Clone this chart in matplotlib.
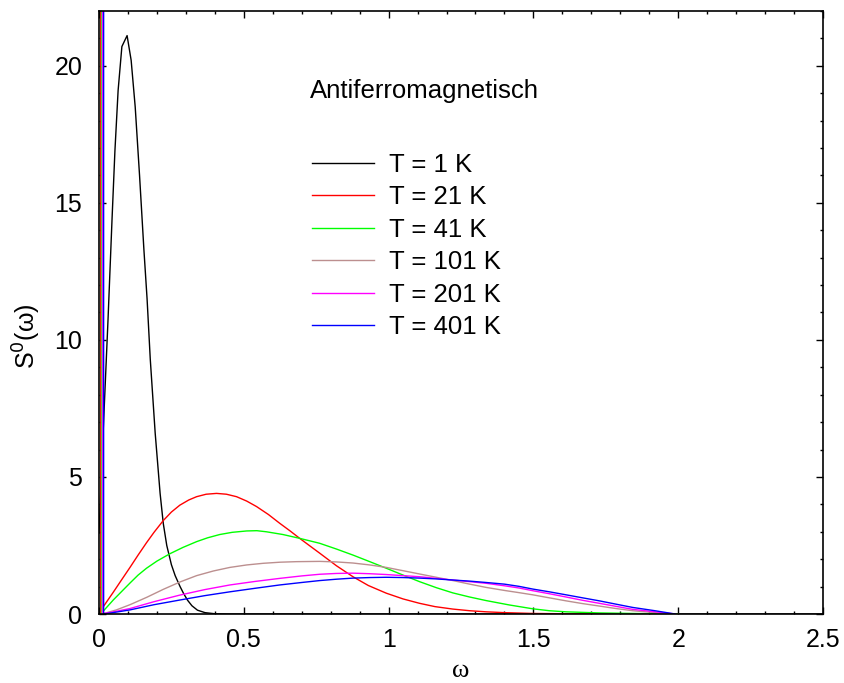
import matplotlib
matplotlib.use("Agg")
import matplotlib.pyplot as plt
from matplotlib.ticker import MultipleLocator, FuncFormatter

plt.rcParams["font.family"] = ["Liberation Sans", "DejaVu Sans"]

# spectra S0(w); first two points of each T>1 curve are the w->0 spike
w_1 = [0.0, 0.015, 0.031, 0.045, 0.055, 0.066, 0.079, 0.097, 0.111, 0.125, 0.14, 0.155,
       0.166, 0.177, 0.194, 0.211, 0.222, 0.234, 0.25, 0.263, 0.28, 0.292, 0.306, 0.321,
       0.34, 0.366, 0.4, 0.45, 2.5]
s_1 = [2.95, 6.8, 10.7, 14.4, 16.9, 19.1, 20.7, 21.1, 20.2, 18.5, 16.0, 13.3,
       11.5, 9.3, 6.6, 4.4, 3.3, 2.5, 1.8, 1.4, 1.0, 0.75, 0.5, 0.3,
       0.14, 0.05, 0.01, 0.0, 0.0]

w_21 = [0.006, 0.006, 0.015, 0.03, 0.049, 0.075, 0.107, 0.135, 0.164, 0.19, 0.222, 0.25,
        0.279, 0.31, 0.337, 0.37, 0.406, 0.44, 0.475, 0.51, 0.544, 0.585, 0.624, 0.66,
        0.693, 0.73, 0.762, 0.82, 0.877, 0.93, 0.992, 1.05, 1.107, 1.16, 1.222, 1.28,
        1.337, 1.4, 1.5, 1.6, 1.8, 2.0]
s_21 = [100.0, 0.0, 0.27, 0.5, 0.79, 1.2, 1.7, 2.15, 2.6, 2.98, 3.41, 3.72,
        3.97, 4.16, 4.28, 4.37, 4.40, 4.37, 4.28, 4.12, 3.92, 3.63, 3.31, 3.03,
        2.76, 2.47, 2.22, 1.76, 1.36, 1.04, 0.76, 0.55, 0.39, 0.27, 0.18, 0.12,
        0.08, 0.05, 0.02, 0.01, 0.0, 0.0]

w_41 = [0.009, 0.009, 0.016, 0.05, 0.107, 0.135, 0.164, 0.2, 0.245, 0.29, 0.337, 0.375,
        0.417, 0.46, 0.51, 0.545, 0.578, 0.635, 0.693, 0.762, 0.82, 0.877, 0.935, 0.992,
        1.05, 1.107, 1.165, 1.222, 1.28, 1.337, 1.417, 1.498, 1.555, 1.613, 1.728, 1.843, 2.0]
s_41 = [100.0, 0.0, 0.12, 0.52, 1.13, 1.42, 1.67, 1.93, 2.2, 2.43, 2.64, 2.78,
        2.9, 2.98, 3.03, 3.04, 3.0, 2.9, 2.76, 2.58, 2.37, 2.15, 1.91, 1.67,
        1.42, 1.18, 0.96, 0.77, 0.62, 0.49, 0.33, 0.19, 0.12, 0.08, 0.04, 0.02, 0.0]

w_101 = [0.011, 0.011, 0.017, 0.06, 0.107, 0.165, 0.222, 0.28, 0.337, 0.395, 0.452, 0.51,
         0.567, 0.625, 0.682, 0.762, 0.82, 0.877, 0.935, 0.992, 1.05, 1.107, 1.165, 1.222,
         1.28, 1.337, 1.40, 1.45, 1.498, 1.555, 1.613, 1.67, 1.728, 1.785, 1.843, 1.92, 1.99]
s_101 = [100.0, 0.0, 0.02, 0.15, 0.34, 0.61, 0.9, 1.17, 1.40, 1.57, 1.70, 1.79,
         1.85, 1.89, 1.91, 1.92, 1.90, 1.86, 1.79, 1.70, 1.58, 1.46, 1.34, 1.22,
         1.09, 0.97, 0.86, 0.78, 0.70, 0.59, 0.48, 0.38, 0.29, 0.20, 0.12, 0.05, 0.0]

w_201 = [0.013, 0.013, 0.017, 0.06, 0.107, 0.19, 0.279, 0.365, 0.452, 0.54, 0.624, 0.7,
         0.762, 0.82, 0.877, 0.935, 0.992, 1.05, 1.107, 1.165, 1.222, 1.28, 1.337, 1.40,
         1.45, 1.498, 1.555, 1.613, 1.67, 1.728, 1.785, 1.843, 1.92, 1.99]
s_201 = [100.0, 0.0, 0.02, 0.1, 0.2, 0.45, 0.69, 0.89, 1.06, 1.19, 1.30, 1.39,
         1.45, 1.48, 1.49, 1.47, 1.44, 1.40, 1.36, 1.30, 1.24, 1.18, 1.12, 1.03,
         0.95, 0.85, 0.74, 0.62, 0.50, 0.39, 0.28, 0.17, 0.08, 0.0]

w_401 = [0.016, 0.016, 0.017, 0.06, 0.107, 0.19, 0.279, 0.365, 0.452, 0.54, 0.624, 0.7,
         0.762, 0.82, 0.877, 0.935, 0.992, 1.05, 1.107, 1.165, 1.222, 1.28, 1.337, 1.40,
         1.45, 1.498, 1.555, 1.613, 1.67, 1.728, 1.785, 1.843, 1.92, 1.99]
s_401 = [100.0, 0.0, 0.0, 0.07, 0.15, 0.34, 0.51, 0.67, 0.81, 0.94, 1.06, 1.15,
         1.22, 1.27, 1.31, 1.33, 1.34, 1.33, 1.31, 1.28, 1.24, 1.20, 1.15, 1.09,
         1.01, 0.91, 0.81, 0.70, 0.59, 0.48, 0.36, 0.24, 0.12, 0.0]

labels = ["T = 1 K", "T = 21 K", "T = 41 K", "T = 101 K", "T = 201 K", "T = 401 K"]
colors = ["black", "#ff0000", "#00ff00", "#bc8f8f", "#ff00ff", "#0000ff"]
series = [(w_1, s_1), (w_21, s_21), (w_41, s_41), (w_101, s_101), (w_201, s_201), (w_401, s_401)]

fig = plt.figure(figsize=(8.44, 6.83), dpi=100, facecolor="white")
ax = fig.add_axes([0.1173, 0.101, 0.8578, 0.883])

for (w, s), lab, c in zip(series, labels, colors):
    ax.plot(w, s, color=c, lw=1.0, label=lab)

ax.set_xlim(0, 2.5)
ax.set_ylim(0, 22)
ax.xaxis.set_major_locator(MultipleLocator(0.5))
ax.xaxis.set_minor_locator(MultipleLocator(0.1))
ax.yaxis.set_major_locator(MultipleLocator(5))
ax.yaxis.set_minor_locator(MultipleLocator(1))
fmt = FuncFormatter(lambda v, _: f"{v:g}")
ax.xaxis.set_major_formatter(fmt)
ax.yaxis.set_major_formatter(fmt)
ax.tick_params(which="both", direction="in", top=True, right=True, width=1.0, labelsize=18)
ax.tick_params(which="major", length=5)
ax.tick_params(which="minor", length=2.5)
ax.tick_params(axis="x", pad=10)
ax.tick_params(axis="y", pad=12)
for sp in ax.spines.values():
    sp.set_linewidth(1.2)

ax.set_xlabel("ω", family=["Liberation Serif", "DejaVu Serif"], fontsize=19, labelpad=6)
ax.set_ylabel("S$^{0}$(ω)", fontsize=18)
ax.yaxis.set_label_coords(-0.078, 0.46)

ax.text(0.291, 0.867, "Antiferromagnetisch", transform=ax.transAxes,
        fontsize=18.5, ha="left", va="center")

ax.legend(loc="upper left", bbox_to_anchor=(0.28, 0.782), frameon=False, fontsize=18.5,
          handlelength=2.4, handletextpad=0.6, labelspacing=0.33, borderaxespad=0)

fig.savefig("out.png", dpi=100, facecolor="white")
